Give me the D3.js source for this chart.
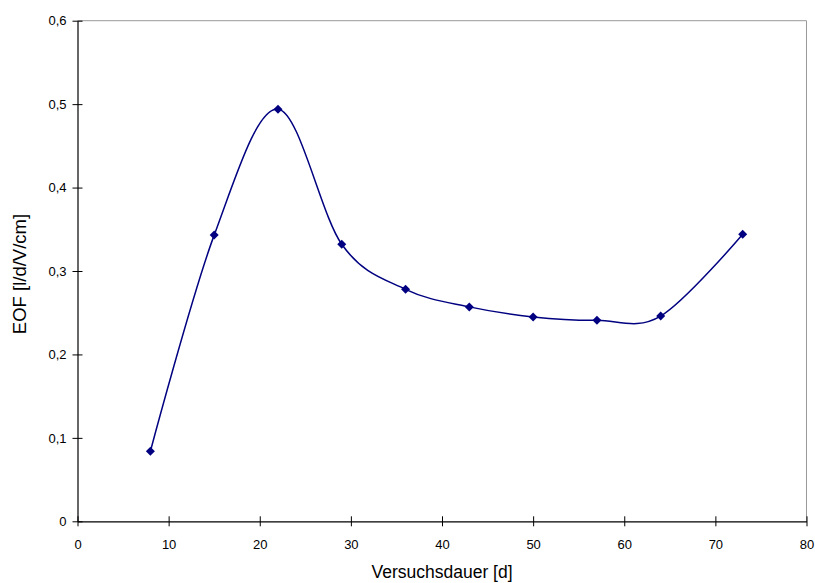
<!DOCTYPE html>
<html><head><meta charset="utf-8">
<script src="https://cdn.jsdelivr.net/npm/d3@7"></script>
<style>body{margin:0;background:#fff}svg{display:block}text{font-family:"Liberation Sans",Arial,sans-serif}</style>
</head><body>
<svg id="c" width="815" height="583"></svg>
<script>
const days = [8, 15, 22, 29, 36, 43, 50, 57, 64, 73];
const eof = [0.084, 0.343, 0.494, 0.332, 0.278, 0.257, 0.245, 0.241, 0.246, 0.344];
const xTicks = [0, 10, 20, 30, 40, 50, 60, 70, 80];
const yTicks = [0, 0.1, 0.2, 0.3, 0.4, 0.5, 0.6];
const xTitle = "Versuchsdauer [d]";
const yTitle = "EOF [l/d/V/cm]";

const svg = d3.select("#c");
const m = {l: 77.5, r: 806.5, t: 20.7, b: 521.3};
const x = d3.scaleLinear().domain([0, 80]).range([m.l, m.r]);
const y = d3.scaleLinear().domain([0, 0.6]).range([m.b, m.t]);
const fmt = v => String(+v.toFixed(1)).replace(".", ",");

// frame (top / right gray)
svg.append("line").attr("x1", m.l).attr("x2", m.r).attr("y1", m.t).attr("y2", m.t).attr("stroke", "#999").attr("stroke-width", 1);
svg.append("line").attr("x1", m.r).attr("x2", m.r).attr("y1", m.t).attr("y2", m.b).attr("stroke", "#999").attr("stroke-width", 1);

const xa = svg.append("g").attr("transform", `translate(0,${m.b})`)
  .call(d3.axisBottom(x).tickValues(xTicks).tickFormat(d => d).tickSize(5).tickSizeOuter(0).tickPadding(13));
xa.selectAll(".tick line").attr("y1", -5);
const ya = svg.append("g").attr("transform", `translate(${m.l},0)`)
  .call(d3.axisLeft(y).tickValues(yTicks).tickFormat(fmt).tickSize(5).tickSizeOuter(0).tickPadding(6));
ya.selectAll(".tick line").attr("x1", 5).attr("x2", -5);
[xa, ya].forEach(a => {
  a.selectAll("path.domain").attr("stroke", "#000").attr("stroke-width", 1.2);
  a.selectAll(".tick line").attr("stroke", "#000");
  a.selectAll("text").attr("font-size", 13).attr("fill", "#000").attr("font-family", "Liberation Sans, Arial, sans-serif");
});

svg.append("text").attr("x", (m.l + m.r) / 2).attr("y", 578).attr("text-anchor", "middle")
  .attr("font-size", 17.5).text(xTitle);
svg.append("text").attr("transform", `translate(26,274) rotate(-90)`).attr("text-anchor", "middle")
  .attr("font-size", 18.5).text(yTitle);

const pts = days.map((d, i) => [d, eof[i]]);
svg.append("path").datum(pts)
  .attr("d", d3.line().x(d => x(d[0])).y(d => y(d[1])).curve(d3.curveCatmullRom.alpha(0)))
  .attr("fill", "none").attr("stroke", "#000080").attr("stroke-width", 1.5);
svg.selectAll(".pt").data(pts).enter().append("path")
  .attr("transform", d => `translate(${x(d[0])},${y(d[1])})`)
  .attr("d", "M0,-4.5L4.5,0L0,4.5L-4.5,0Z").attr("fill", "#000080");
</script>
</body></html>
